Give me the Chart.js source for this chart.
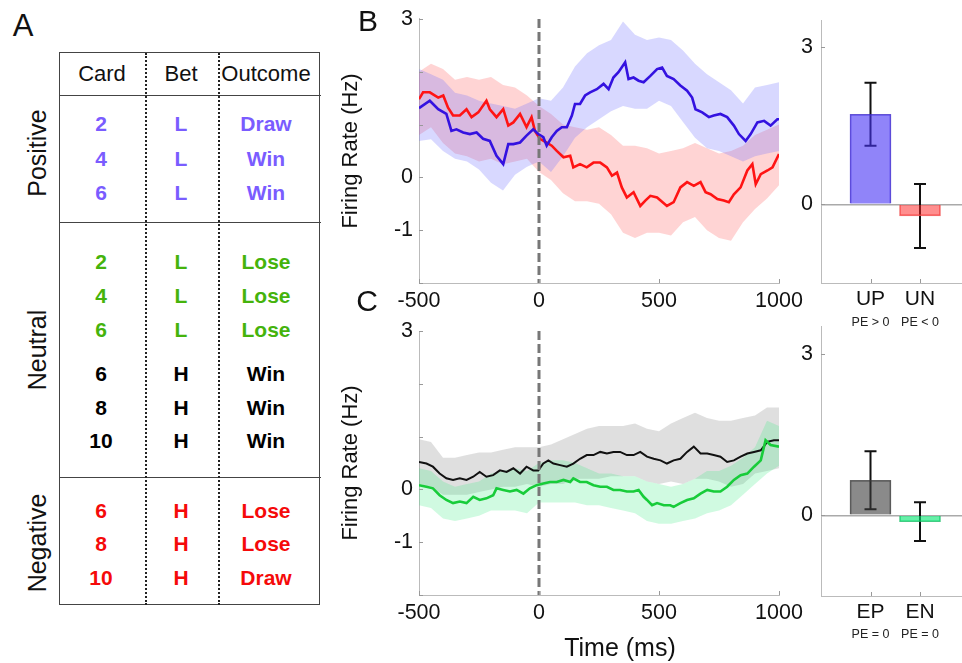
<!DOCTYPE html>
<html><head><meta charset="utf-8"><title>Firing rate by prediction error</title>
<script src="https://cdn.jsdelivr.net/npm/chart.js@4.4.1/dist/chart.umd.min.js"></script>
<style>
html,body{margin:0;padding:0;background:#fff;}
body{width:962px;height:663px;overflow:hidden;position:relative;font-family:"Liberation Sans",Arial,Helvetica,sans-serif;color:#111;}
canvas{position:absolute;}
.lbl{position:absolute;white-space:nowrap;transform:translate(-50%,-50%);line-height:1;}
.rot{transform:translate(-50%,-50%) rotate(-90deg);}
.hline{position:absolute;height:0;border-top:1.5px solid #444;}
.vdot{position:absolute;width:0;border-left:2px dotted #222;}
#tbl{position:absolute;left:59px;top:52px;width:259px;height:551px;border:1.5px solid #444;}
</style></head><body>
<div id="panelA"><div id="tbl"></div></div>
<canvas id="cB" width="480" height="320" style="left:330px;top:0px"></canvas>
<canvas id="cC" width="480" height="353" style="left:330px;top:310px"></canvas>
<canvas id="cU" width="230" height="340" style="left:795px;top:0px"></canvas>
<canvas id="cE" width="230" height="357" style="left:795px;top:306px"></canvas>
<div class="lbl" style="left:23px;top:25px;font-size:31px">A</div>
<div class="lbl" style="left:368px;top:21px;font-size:30px">B</div>
<div class="lbl" style="left:367px;top:301px;font-size:30px">C</div>
<div class="lbl" style="left:620px;top:647px;font-size:25px">Time (ms)</div>
<script>
// ---------------- DATA ----------------
// Panel A table
const tableHeaders = ['Card', 'Bet', 'Outcome'];
const tableGroups = ['Positive', 'Neutral', 'Negative'];
const tableCards = ['2', '4', '6', '2', '4', '6', '6', '8', '10', '6', '8', '10'];
const tableBets = ['L', 'L', 'L', 'L', 'L', 'L', 'H', 'H', 'H', 'H', 'H', 'H'];
const tableOutcomes = ['Draw', 'Win', 'Win', 'Lose', 'Lose', 'Lose', 'Win', 'Win', 'Win', 'Lose', 'Lose', 'Draw'];

// Panel B: UP (positive PE) firing rate
const upTime = [-500,-455,-420,-386,-365,-344,-316,-288,-260,-233,-205,-177,-149,-128,-107,-79,-52,-24,-3,18,32,53,74,95,116,137,150,171,192,213,241,269,290,310,331,359,373,394,415,436,464,492,513,533,561,589,617,638,652,680,708,728,756,784,812,833,861,882,910,938,965,993,1000];
const upMean = [1.31,1.45,1.29,1.2,0.88,0.91,0.85,0.82,0.85,0.73,0.69,0.41,0.25,0.63,0.63,0.66,0.79,0.91,0.82,0.76,0.6,0.76,0.88,0.95,0.95,1.17,1.39,1.39,1.55,1.61,1.67,1.77,1.67,1.89,1.99,2.18,1.86,1.89,1.83,1.8,1.92,2.05,2.08,1.92,1.86,1.74,1.64,1.51,1.29,1.23,1.14,1.17,1.2,1.14,0.98,0.82,0.69,0.82,1.04,1.07,0.98,1.1,1.1];
// Panel B: UN (negative PE) firing rate
const unTime = [-500,-483,-455,-420,-399,-379,-358,-330,-302,-281,-253,-219,-205,-177,-149,-128,-107,-79,-52,-31,-17,4,32,53,74,102,130,143,171,199,227,255,283,304,325,345,366,394,422,443,464,492,533,561,589,617,645,673,694,715,743,770,791,812,840,868,889,903,924,952,973,1000];
const unMean = [1.48,1.61,1.61,1.51,1.55,1.32,1.17,1.17,1.29,1.14,1.23,1.45,1.29,1.14,1.29,0.98,1.04,1.2,0.95,1.14,0.88,0.73,0.66,0.6,0.5,0.38,0.41,0.19,0.25,0.19,0.28,0.28,0.19,0.03,0.09,-0.19,-0.38,-0.28,-0.54,-0.44,-0.35,-0.38,-0.54,-0.47,-0.19,-0.09,-0.16,-0.09,-0.28,-0.32,-0.41,-0.44,-0.47,-0.32,-0.19,0.13,0.25,-0.13,0.06,0.13,0.19,0.44];
// shaded error bands (upper / lower edges)
const bandTime = [-500,-450,-400,-350,-300,-250,-200,-150,-100,-50,0,50,100,150,200,250,300,350,400,450,500,550,600,650,700,750,800,850,900,950,1000];
const upHigh = [2.05,1.95,1.85,1.6,1.55,1.45,1.4,1.35,1.3,1.4,1.5,1.45,1.7,2.1,2.35,2.5,2.6,2.95,2.7,2.6,2.65,2.6,2.4,2.15,1.95,1.8,1.65,1.4,1.7,1.75,1.8];
const upLow = [0.69,0.72,0.5,0.35,0.3,0.15,-0.1,-0.25,0.05,0.2,0.3,0.1,0.4,0.75,0.95,1.1,1.25,1.35,1.3,1.3,1.45,1.35,1.05,0.75,0.55,0.5,0.4,0.3,0.4,0.45,0.5];
const unHigh = [2.0,2.15,2.05,1.85,1.9,1.85,1.9,1.75,1.7,1.55,1.35,1.2,1.0,0.95,0.9,0.95,0.8,0.6,0.6,0.55,0.45,0.5,0.55,0.65,0.55,0.45,0.5,0.6,0.8,0.9,1.0];
const unLow = [0.8,0.95,0.65,0.45,0.4,0.3,0.35,0.25,0.3,0.35,0.1,-0.05,-0.3,-0.45,-0.45,-0.5,-0.7,-1.05,-1.15,-1.05,-1.05,-1.1,-0.85,-0.75,-1.0,-1.15,-1.2,-0.85,-0.6,-0.4,-0.15];

// Panel C: EP (expected positive) and EN (expected negative)
const epTime = [-500,-469,-442,-414,-386,-358,-330,-302,-274,-247,-219,-191,-163,-135,-107,-79,-52,-24,-3,18,39,60,88,116,143,171,199,227,255,283,310,338,366,394,422,450,478,506,533,561,589,617,645,673,701,728,756,784,812,840,868,896,924,951,979,1000];
const epMean = [0.52,0.49,0.43,0.30,0.21,0.18,0.21,0.18,0.24,0.33,0.24,0.27,0.36,0.33,0.40,0.30,0.43,0.36,0.36,0.49,0.55,0.49,0.46,0.43,0.49,0.58,0.65,0.65,0.71,0.68,0.71,0.71,0.65,0.65,0.71,0.62,0.58,0.55,0.49,0.55,0.58,0.71,0.81,0.68,0.68,0.65,0.62,0.52,0.55,0.62,0.68,0.71,0.74,0.90,0.93,0.93];
const enTime = [-500,-469,-442,-414,-386,-358,-330,-302,-274,-247,-219,-191,-177,-149,-121,-93,-65,-38,-10,18,46,74,102,130,143,171,199,227,255,283,310,338,366,394,415,436,450,471,492,520,547,561,589,617,645,673,701,728,756,784,812,840,868,896,924,944,965,1000];
const enMean = [0.08,0.05,0.02,-0.11,-0.20,-0.26,-0.23,-0.26,-0.14,-0.20,-0.17,-0.11,0.02,-0.01,-0.04,-0.01,-0.08,0.02,0.08,0.11,0.14,0.14,0.18,0.14,0.21,0.14,0.14,0.08,0.05,0.05,-0.01,-0.01,-0.04,-0.04,-0.01,-0.14,-0.20,-0.30,-0.26,-0.30,-0.30,-0.33,-0.26,-0.20,-0.17,-0.08,-0.01,-0.04,-0.04,0.05,0.18,0.27,0.30,0.43,0.55,0.93,0.84,0.81];
const epHigh = [0.95,0.9,0.6,0.6,0.65,0.7,0.7,0.75,0.8,0.8,0.8,0.85,0.95,1.05,1.15,1.2,1.2,1.2,1.25,1.15,1.1,1.25,1.35,1.45,1.35,1.3,1.3,1.35,1.4,1.55,1.55];
const epLow = [0.1,0.05,-0.1,-0.1,-0.1,-0.05,0.0,0.05,0.05,0.1,0.05,0.1,0.1,0.2,0.2,0.2,0.25,0.25,0.25,0.15,0.1,0.15,0.1,0.2,0.2,0.15,0.05,0.1,0.3,0.35,0.4];
const enHigh = [0.4,0.35,0.15,0.05,0.1,0.15,0.3,0.35,0.4,0.35,0.5,0.55,0.55,0.5,0.4,0.3,0.3,0.25,0.25,0.15,0.1,0.05,0.1,0.2,0.35,0.35,0.45,0.6,0.8,1.3,1.2];
const enLow = [-0.3,-0.35,-0.55,-0.6,-0.55,-0.5,-0.4,-0.4,-0.4,-0.45,-0.25,-0.25,-0.25,-0.25,-0.3,-0.3,-0.35,-0.4,-0.45,-0.6,-0.65,-0.65,-0.6,-0.55,-0.45,-0.4,-0.3,-0.1,0.1,0.3,0.45];

// event marker and axis ticks
const eventTime = 0;
const timeTicks = [-500, 0, 500, 1000];
const rateTicks = [-2, -1, 0, 1, 2, 3];
const rateTickLabels = [-1, 0, 3];
const barTicks = [0, 3];

// Bar panels (mean firing rate, error = SEM)
const upunLabels = ['UP', 'UN'];
const upunSub = ['PE > 0', 'PE < 0'];
const upunMean = [1.72, -0.22];
const upunErr = [0.6, 0.61];
const epenLabels = ['EP', 'EN'];
const epenSub = ['PE = 0', 'PE = 0'];
const epenMean = [0.65, -0.12];
const epenErr = [0.54, 0.36];

// ---------------- PANEL A (table) ----------------
(function buildTable() {
  const A = document.getElementById('panelA');
  function txt(t, x, y, css, cls) {
    const d = document.createElement('div');
    d.className = 'lbl' + (cls ? ' ' + cls : '');
    d.textContent = t;
    d.style.left = x + 'px'; d.style.top = y + 'px';
    d.style.cssText += css;
    A.appendChild(d);
  }
  [95, 222, 477].forEach(y => {
    const h = document.createElement('div'); h.className = 'hline';
    h.style.left = '59px'; h.style.top = y + 'px'; h.style.width = '262px';
    A.appendChild(h);
  });
  [145, 218].forEach(x => {
    const v = document.createElement('div'); v.className = 'vdot';
    v.style.left = x + 'px'; v.style.top = '53px'; v.style.height = '552px';
    A.appendChild(v);
  });
  const colX = [102, 181, 266];
  tableHeaders.forEach((h, i) => txt(h, colX[i], 74, 'font-size:22px;'));
  const groupY = [153, 350, 543];
  tableGroups.forEach((g, i) => txt(g, 37, groupY[i], 'font-size:25px;', 'rot'));
  const rowY = [123, 158, 192, 261, 295, 329, 373, 407, 440, 510, 543, 577];
  const rowCol = ['#7a5cff', '#7a5cff', '#7a5cff', '#45b30c', '#45b30c', '#45b30c', '#000', '#000', '#000', '#f50a0a', '#f50a0a', '#f50a0a'];
  tableCards.forEach((c, i) => {
    const st = 'font-size:21px;font-weight:bold;color:' + rowCol[i] + ';';
    txt(c, colX[0] - 1, rowY[i], st);
    txt(tableBets[i], colX[1], rowY[i], st);
    txt(tableOutcomes[i], colX[2], rowY[i], st);
  });
})();

// ---------------- CHARTS ----------------
Chart.defaults.font.family = "'Liberation Sans', Arial, Helvetica, sans-serif";
Chart.defaults.color = '#111';

function inwardTicks(xVals, yVals) {
  return {
    id: 'inwardTicks',
    afterDatasetsDraw(chart) {
      const {ctx, chartArea: a, scales} = chart;
      ctx.save(); ctx.strokeStyle = '#999'; ctx.lineWidth = 1;
      ctx.beginPath();
      xVals.forEach(v => { const p = Math.round(scales.x.getPixelForValue(v)) + 0.5; ctx.moveTo(p, a.bottom); ctx.lineTo(p, a.bottom - 4); });
      yVals.forEach(v => { const p = Math.round(scales.y.getPixelForValue(v)) + 0.5; ctx.moveTo(a.left, p); ctx.lineTo(a.left + 4, p); });
      ctx.stroke(); ctx.restore();
    }
  };
}
function errorBars(means, errs) {
  return {
    id: 'errorBars',
    beforeDatasetsDraw(chart) {
      const {ctx, scales} = chart;
      ctx.save(); ctx.strokeStyle = '#111'; ctx.lineWidth = 2;
      means.forEach((m, i) => {
        const px = scales.x.getPixelForValue(i + 1);
        const hi = scales.y.getPixelForValue(m + errs[i]);
        const lo = scales.y.getPixelForValue(m - errs[i]);
        ctx.beginPath();
        ctx.moveTo(px, hi); ctx.lineTo(px, lo);
        ctx.moveTo(px - 6, hi); ctx.lineTo(px + 6, hi);
        ctx.moveTo(px - 6, lo); ctx.lineTo(px + 6, lo);
        ctx.stroke();
      });
      ctx.restore();
    }
  };
}
const pts = (xs, ys) => xs.map((x, i) => ({x, y: ys[i]}));

function lineLine(xs, ys, color, w) {
  return {data: pts(xs, ys), borderColor: color, borderWidth: w, pointRadius: 0, tension: 0, fill: false};
}
function bandPair(hi, lo, color) {
  return [
    {data: pts(bandTime, hi), borderWidth: 0, borderColor: 'rgba(0,0,0,0)', pointRadius: 0, tension: 0, fill: '+1', backgroundColor: color},
    {data: pts(bandTime, lo), borderWidth: 0, borderColor: 'rgba(0,0,0,0)', pointRadius: 0, tension: 0, fill: false}
  ];
}
function eventLine() {
  return {data: [{x: eventTime, y: 3}, {x: eventTime, y: -2}], borderColor: '#777', borderWidth: 3, borderDash: [9, 4], pointRadius: 0, fill: false};
}

function lineOptions(padTop, padBottom) {
  return {
    responsive: false, animation: false, devicePixelRatio: 1, events: [],
    layout: {padding: {left: 0, top: padTop, right: 31, bottom: padBottom}},
    plugins: {legend: {display: false}, tooltip: {enabled: false}},
    scales: {
      x: {
        type: 'linear', min: -500, max: 1000,
        afterBuildTicks: s => { s.ticks = timeTicks.map(v => ({value: v})); },
        afterFit: s => { s.height = 37; },
        ticks: {autoSkip: false, maxRotation: 0, padding: 5, font: {size: 21.5}, color: '#111', callback: v => String(v)},
        grid: {display: true, drawOnChartArea: false, drawTicks: false},
        border: {display: true, color: '#bbb', width: 1}
      },
      y: {
        type: 'linear', min: -2, max: 3,
        afterBuildTicks: s => { s.ticks = rateTicks.map(v => ({value: v})); },
        afterFit: s => { s.width = 89; },
        ticks: {autoSkip: false, padding: 6, font: {size: 21.5}, color: '#111', callback: v => rateTickLabels.includes(v) ? String(v) : ''},
        grid: {display: true, drawOnChartArea: false, drawTicks: false},
        border: {display: true, color: '#bbb', width: 1},
        title: {display: true, text: 'Firing Rate (Hz)', font: {size: 22}, color: '#111', padding: {top: 8, bottom: 0}}
      }
    }
  };
}

new Chart(document.getElementById('cB'), {
  type: 'line',
  data: {datasets: [
    eventLine(),
    lineLine(upTime, upMean, '#3412e0', 2.6),
    lineLine(unTime, unMean, '#ff1414', 2.6),
    ...bandPair(upHigh, upLow, 'rgba(110,110,255,0.27)'),
    ...bandPair(unHigh, unLow, 'rgba(255,85,85,0.25)')
  ]},
  options: lineOptions(18, 0),
  plugins: [inwardTicks(timeTicks, rateTicks)]
});

new Chart(document.getElementById('cC'), {
  type: 'line',
  data: {datasets: [
    eventLine(),
    lineLine(enTime, enMean, '#18cc3a', 2.6),
    lineLine(epTime, epMean, '#111', 2.0),
    ...bandPair(enHigh, enLow, 'rgba(60,235,130,0.24)'),
    ...bandPair(epHigh, epLow, 'rgba(150,150,150,0.3)')
  ]},
  options: lineOptions(21, 31),
  plugins: [inwardTicks(timeTicks, rateTicks)]
});

function barOptions(padTop, padBottom, labels, subs, mainPad, subPad) {
  return {
    responsive: false, animation: false, devicePixelRatio: 1, events: [],
    layout: {padding: {left: 0, top: padTop, right: 6, bottom: padBottom}},
    plugins: {legend: {display: false}, tooltip: {enabled: false}},
    scales: {
      x: {
        type: 'linear', min: 0, max: 4, offset: false,
        afterBuildTicks: s => { s.ticks = labels.map((l, i) => ({value: i + 1})); },
        afterFit: s => { s.height = 30; },
        ticks: {autoSkip: false, maxRotation: 0, padding: mainPad, font: {size: 21}, color: '#111', callback: v => labels[v - 1] || ''},
        grid: {display: true, offset: false, drawOnChartArea: false, drawTicks: false},
        border: {display: true, color: '#bbb', width: 1}
      },
      x2: {
        type: 'linear', position: 'bottom', min: 0, max: 4, offset: false,
        afterBuildTicks: s => { s.ticks = subs.map((l, i) => ({value: i + 1})); },
        afterFit: s => { s.height = 27; },
        ticks: {autoSkip: false, maxRotation: 0, padding: subPad, font: {size: 12.5}, color: '#222', callback: v => subs[v - 1] || ''},
        grid: {display: false, drawTicks: false},
        border: {display: false}
      },
      y: {
        type: 'linear', min: -1.5, max: 3.5,
        afterBuildTicks: s => { s.ticks = barTicks.map(v => ({value: v})); },
        afterFit: s => { s.width = 26; },
        ticks: {autoSkip: false, padding: 8, font: {size: 21.5}, color: '#111', callback: v => String(v)},
        grid: {display: true, drawOnChartArea: true, drawTicks: false,
               color: c => (c.tick && c.tick.value === 0) ? '#aaa' : 'rgba(0,0,0,0)', lineWidth: 1.5},
        border: {display: true, color: '#bbb', width: 1}
      }
    }
  };
}

new Chart(document.getElementById('cU'), {
  type: 'bar',
  data: {datasets: [{
    data: upunMean.map((m, i) => ({x: i + 1, y: m})),
    backgroundColor: ['rgba(70,50,245,0.6)', 'rgba(255,30,30,0.5)'],
    borderColor: ['rgba(60,40,200,0.8)', 'rgba(240,80,80,0.8)'],
    borderWidth: 1, barThickness: 41
  }]},
  options: barOptions(16, 0, upunLabels, upunSub, 4, 2),
  plugins: [errorBars(upunMean, upunErr), inwardTicks([1, 2], barTicks)]
});

new Chart(document.getElementById('cE'), {
  type: 'bar',
  data: {datasets: [{
    data: epenMean.map((m, i) => ({x: i + 1, y: m})),
    backgroundColor: ['rgba(60,60,60,0.6)', 'rgba(0,230,110,0.6)'],
    borderColor: ['rgba(60,60,60,0.8)', 'rgba(20,190,100,0.8)'],
    borderWidth: 1, barThickness: 41
  }]},
  options: barOptions(20, 10, epenLabels, epenSub, 4, 1),
  plugins: [errorBars(epenMean, epenErr), inwardTicks([1, 2], barTicks)]
});
</script>
</body></html>
